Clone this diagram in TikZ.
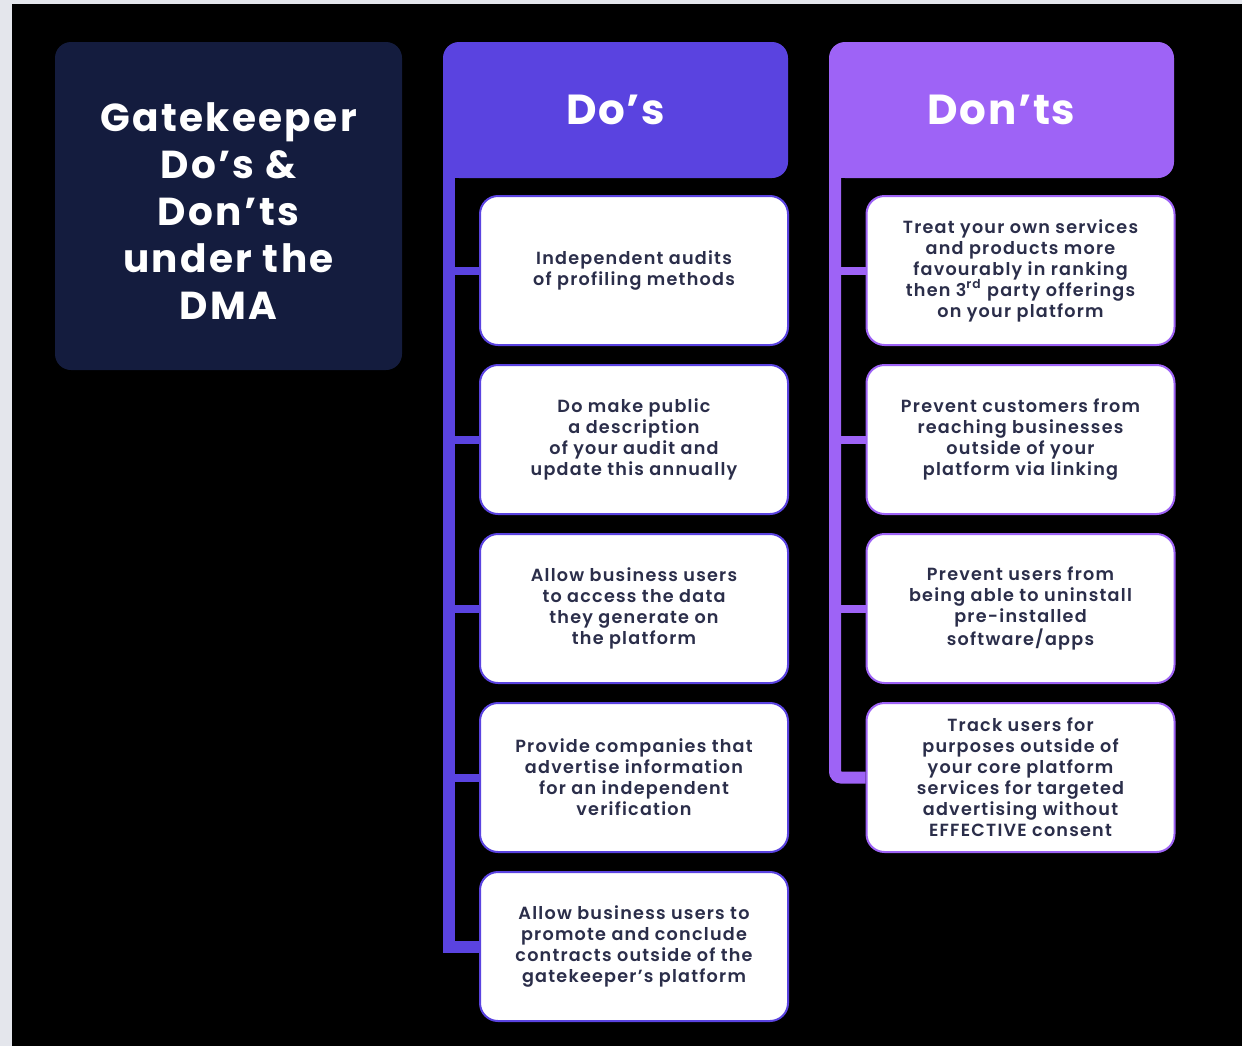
\documentclass[tikz,border=0pt]{standalone}
\usepackage{fontspec}
\setmainfont{Poppins}
\newfontfamily\cardfont{Poppins}[UprightFont=* SemiBold, LetterSpace=7]
\newfontfamily\titlefont{Poppins}[UprightFont=* Bold, LetterSpace=6]
\newfontfamily\headfont{Poppins}[UprightFont=* Bold, LetterSpace=4]
\usetikzlibrary{positioning}
\definecolor{navy}{HTML}{141C3E}
\definecolor{dopurple}{HTML}{5A43E0}
\definecolor{dontpurple}{HTML}{9E63F6}
\definecolor{cardtext}{HTML}{2B2E4A}
\definecolor{sidestrip}{HTML}{E4E6EC}
\tikzset{
  card/.style={draw=#1, line width=1pt, fill=white, rounded corners=9pt,
    minimum width=154pt, minimum height=74.5pt, align=center, text=cardtext,
    font=\cardfont\fontsize{8.8}{10.5}\selectfont, inner sep=2pt},
  colhead/.style={fill=#1, rounded corners=8pt, minimum width=172.5pt,
    minimum height=68pt, outer sep=0pt, text=white,
    font=\headfont\fontsize{21}{22}\selectfont},
  barline/.style={draw=#1, line width=6pt},
  branch/.style={draw=#1, line width=4pt},
}
\begin{document}
\begin{tikzpicture}[x=0.5pt,y=-0.5pt]
    \useasboundingbox (0,0) rectangle (1242,1046);
    \fill[sidestrip] (0,0) rectangle (1242,1046);
    \fill[black] (12,4) rectangle (1242,1046);
    % title
    \node[fill=navy, rounded corners=8pt, minimum width=173.5pt, minimum height=164pt]
      (title) at (228.5,206) {};
    \node[text=white, align=center, font=\titlefont\fontsize{19.5}{23.5}\selectfont]
      (titletext) at (228.5,211) {Gatekeeper\\Do’s \&\\Don’ts\\under the\\DMA};
    % do's column
    \node[colhead=dopurple] (dos) at (615.5,110) {Do’s};
    \fill[dopurple] (dos.south west) rectangle ++(24,-24);
    \foreach \t [count=\i] in {
      {Independent audits\\of profiling methods},
      {Do make public\\a description\\of your audit and\\update this annually},
      {Allow business users\\to access the data\\they generate on\\the platform},
      {Provide companies that\\advertise information\\for an independent\\verification},
      {Allow business users to\\promote and conclude\\contracts outside of the\\gatekeeper’s platform}}
    \node[card=dopurple] (do\i) at (634,270.5+169*\i-169) {\t};
    \coordinate (dobar) at (449,150);
    \draw[barline=dopurple] (dobar) |- (do5.west);
    \foreach \i in {1,...,4}
    \draw[branch=dopurple] (dobar |- do\i.west) -- (do\i.west);
    % don'ts column
    \node[colhead=dontpurple] (donts) at (1001.5,110) {Don’ts};
    \fill[dontpurple] (donts.south west) rectangle ++(24,-24);
    \foreach \t [count=\i] in {
      {Treat your own services\\and products more\\favourably in ranking\\then 3\smash{\textsuperscript{rd}} party offerings\\on your platform},
      {Prevent customers from\\reaching businesses\\outside of your\\platform via linking},
      {Prevent users from\\being able to uninstall\\pre-installed\\software/apps},
      {Track users for\\purposes outside of\\your core platform\\services for targeted\\advertising without\\EFFECTIVE consent}}
    \node[card=dontpurple] (dont\i) at (1020.5,270.5+169*\i-169) {\t};
    \coordinate (dontbar) at (835,150);
    \draw[barline=dontpurple, rounded corners=3pt] (dontbar) |- (dont4.west);
    \foreach \i in {1,...,3}
    \draw[branch=dontpurple] (dontbar |- dont\i.west) -- (dont\i.west);
\end{tikzpicture}
\end{document}
